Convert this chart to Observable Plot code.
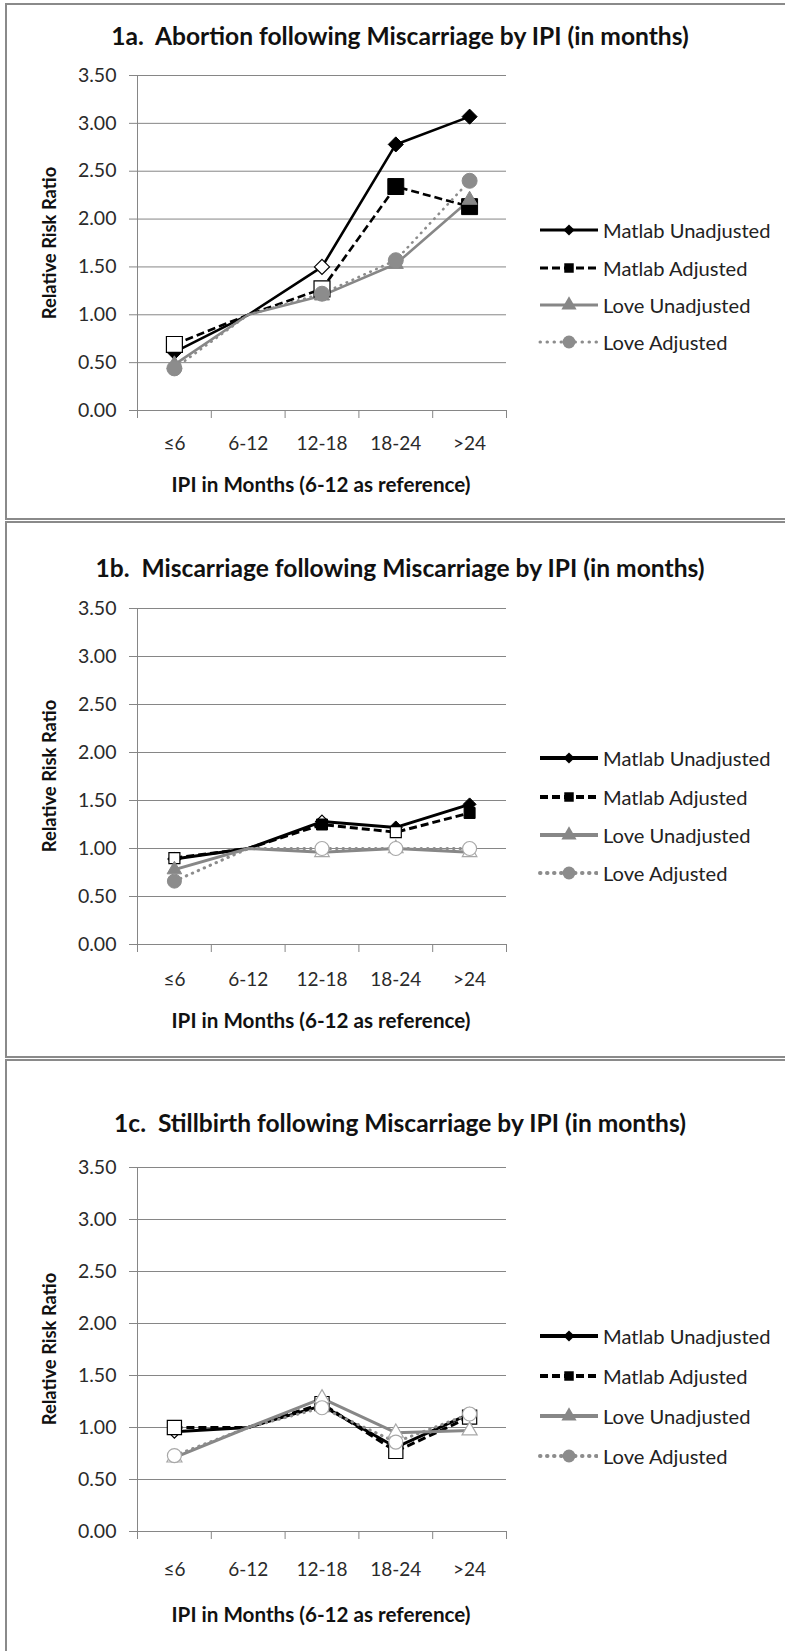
<!DOCTYPE html>
<html>
<head>
<meta charset="utf-8">
<script src="https://cdn.jsdelivr.net/npm/d3@7"></script>
<script src="https://cdn.jsdelivr.net/npm/@observablehq/plot@0.6"></script>
<style>
  html, body { margin: 0; padding: 0; background: #fff; }
  body { width: 785px; height: 1651px; overflow: hidden; position: relative; font-family: Lato, "Open Sans", sans-serif; color: #111; }
  .panel { position: absolute; left: 5px; width: 800px; border: 2px solid #8a8a8a; box-sizing: border-box; }
  .title { position: absolute; left: 0; width: 800px; text-align: center; font-weight: bold; font-size: 24.5px; white-space: pre; line-height: 30px; color: #111; transform: translateY(-50%); }
  .ytitle { position: absolute; font-weight: bold; font-size: 19.5px; white-space: nowrap; line-height: 24px; transform: translate(-50%, -50%) rotate(-90deg); color: #111; }
  .xtitle { position: absolute; font-weight: bold; font-size: 20.7px; white-space: nowrap; line-height: 24px; transform: translate(-50%, -50%); color: #111; }
  .plotwrap { position: absolute; left: 0; }
  .legrow { position: absolute; left: 0; height: 26px; display: flex; align-items: center; white-space: nowrap; font-size: 20.5px; color: #222; transform: translateY(-50%); }
  .legrow svg { margin-right: 5px; flex: none; }
</style>
</head>
<body>
<script>
// ---------- data ----------
const categories = ["≤6", "6-12", "12-18", "18-24", ">24"];
const seriesNames = ["Matlab Unadjusted", "Matlab Adjusted", "Love Unadjusted", "Love Adjusted"];
const yTicks = [0, 0.5, 1, 1.5, 2, 2.5, 3, 3.5];

// 1a. Abortion following Miscarriage
const abortionMatlabUnadj = [0.61, 1.00, 1.50, 2.78, 3.07];
const abortionMatlabAdj   = [0.69, 1.00, 1.27, 2.34, 2.13];
const abortionLoveUnadj   = [0.48, 1.00, 1.20, 1.53, 2.20];
const abortionLoveAdj     = [0.44, 1.00, 1.22, 1.57, 2.40];
// marker: 1 = filled, 0 = hollow, null = no marker (reference category)
const abortionMatlabUnadjFill = [1, null, 0, 1, 1];
const abortionMatlabAdjFill   = [0, null, 0, 1, 1];
const abortionLoveUnadjFill   = [1, null, 1, 1, 1];
const abortionLoveAdjFill     = [1, null, 1, 1, 1];

// 1b. Miscarriage following Miscarriage
const miscarriageMatlabUnadj = [0.89, 1.00, 1.28, 1.22, 1.46];
const miscarriageMatlabAdj   = [0.90, 1.00, 1.25, 1.17, 1.37];
const miscarriageLoveUnadj   = [0.78, 1.00, 0.96, 1.00, 0.96];
const miscarriageLoveAdj     = [0.66, 1.00, 1.00, 1.00, 1.00];
const miscarriageMatlabUnadjFill = [0, null, 0, 1, 1];
const miscarriageMatlabAdjFill   = [0, null, 1, 0, 1];
const miscarriageLoveUnadjFill   = [1, null, 0, 0, 0];
const miscarriageLoveAdjFill     = [1, null, 0, 0, 0];

// 1c. Stillbirth following Miscarriage
const stillbirthMatlabUnadj = [0.96, 1.00, 1.21, 0.81, 1.13];
const stillbirthMatlabAdj   = [1.00, 1.00, 1.23, 0.77, 1.10];
const stillbirthLoveUnadj   = [0.71, 1.00, 1.28, 0.95, 0.97];
const stillbirthLoveAdj     = [0.73, 1.00, 1.19, 0.86, 1.13];
const stillbirthMatlabUnadjFill = [0, null, 0, 1, 0];
const stillbirthMatlabAdjFill   = [0, null, 0, 0, 0];
const stillbirthLoveUnadjFill   = [0, null, 0, 0, 0];
const stillbirthLoveAdjFill     = [0, null, 0, 0, 0];

const panelTitles = [
  "1a.  Abortion following Miscarriage by IPI (in months)",
  "1b.  Miscarriage following Miscarriage by IPI (in months)",
  "1c.  Stillbirth following Miscarriage by IPI (in months)"
];
const yTitle = "Relative Risk Ratio";
const xTitle = "IPI in Months (6-12 as reference)";

// ---------- layout / style ----------
const GRAY_AXIS = "#868686";
const seriesStyle = [
  {color: "#000000", dash: null,    symbol: "diamond2", hollow: "#000000", cap: "butt"},
  {color: "#000000", dash: "8,4",   symbol: "square",   hollow: "#000000", cap: "butt"},
  {color: "#878787", dash: null,    symbol: "triangle", hollow: "#a8a8a8", cap: "butt"},
  {color: "#8c8c8c", dash: "0.5,6", symbol: "circle",   hollow: "#a8a8a8", cap: "round"}
];

const panels = [
  {
    series: [abortionMatlabUnadj, abortionMatlabAdj, abortionLoveUnadj, abortionLoveAdj],
    fills: [abortionMatlabUnadjFill, abortionMatlabAdjFill, abortionLoveUnadjFill, abortionLoveAdjFill],
    box: [3, 520], plotTop: 75, plotBottom: 410, titleY: 36, xTitleY: 484, xPad: 26,
    legendY: [230, 268, 305, 342], lineW: 2.6, legW: 3,
    r: [6.8, 9.0, 5.6, 7.5], titleW: 578
  },
  {
    series: [miscarriageMatlabUnadj, miscarriageMatlabAdj, miscarriageLoveUnadj, miscarriageLoveAdj],
    fills: [miscarriageMatlabUnadjFill, miscarriageMatlabAdjFill, miscarriageLoveUnadjFill, miscarriageLoveAdjFill],
    box: [521, 1058], plotTop: 608, plotBottom: 944, titleY: 568, xTitleY: 1020, xPad: 28,
    legendY: [758, 797, 835, 873], lineW: 3, legW: 4,
    r: [5.8, 6.2, 5.4, 7.0], titleW: 609
  },
  {
    series: [stillbirthMatlabUnadj, stillbirthMatlabAdj, stillbirthLoveUnadj, stillbirthLoveAdj],
    fills: [stillbirthMatlabUnadjFill, stillbirthMatlabAdjFill, stillbirthLoveUnadjFill, stillbirthLoveAdjFill],
    box: [1059, 1700], plotTop: 1167, plotBottom: 1531, titleY: 1123, xTitleY: 1614, xPad: 31,
    legendY: [1336, 1376, 1416, 1456], lineW: 3, legW: 4,
    r: [5.8, 8.0, 5.6, 7.0], titleW: 572
  }
];

const ML = 137, MR = 785 - 506, MT = 20, MB = 80;

// scale an element's font so that its natural width matches a target width (within limits)
function fitWidth(el, target, lo, hi) {
  const w = el.offsetWidth;
  if (!w) return;
  const fs = parseFloat(getComputedStyle(el).fontSize);
  const nfs = Math.max(lo, Math.min(hi, fs * target / w));
  el.style.fontSize = nfs + "px";
}

function legendSwatch(k, legW) {
  const s = seriesStyle[k];
  const ns = "http://www.w3.org/2000/svg";
  const svg = document.createElementNS(ns, "svg");
  svg.setAttribute("width", 60); svg.setAttribute("height", 20);
  const line = document.createElementNS(ns, "line");
  line.setAttribute("x1", 2); line.setAttribute("x2", 60);
  line.setAttribute("y1", 10); line.setAttribute("y2", 10);
  line.setAttribute("stroke", s.color);
  line.setAttribute("stroke-width", legW);
  if (s.dash) line.setAttribute("stroke-dasharray", s.dash === "8,4" ? "8,4" : "0.5,6.5");
  line.setAttribute("stroke-linecap", s.cap);
  svg.appendChild(line);
  const sym = {diamond2: d3.symbolDiamond2, square: d3.symbolSquare, triangle: d3.symbolTriangle, circle: d3.symbolCircle}[s.symbol];
  const size = {diamond2: 80, square: 90, triangle: 100, circle: 130}[s.symbol];
  const p = document.createElementNS(ns, "path");
  p.setAttribute("d", d3.symbol(sym, size)());
  p.setAttribute("transform", "translate(31,10)");
  p.setAttribute("fill", s.color);
  svg.appendChild(p);
  return svg;
}

panels.forEach((P, pi) => {
  const box = document.createElement("div");
  box.className = "panel";
  box.style.top = P.box[0] + "px";
  box.style.height = (P.box[1] - P.box[0]) + "px";
  document.body.appendChild(box);

  const t = document.createElement("div");
  t.className = "title";
  const ts = document.createElement("span");
  ts.textContent = panelTitles[pi];
  t.appendChild(ts);
  t.style.top = P.titleY + "px";
  document.body.appendChild(t);
  fitWidth(ts, P.titleW, 22, 27);

  const rows = [];
  P.series.forEach((vals, k) => {
    vals.forEach((v, i) => rows.push({k, cat: i, x: i + 0.5, y: v, fill: P.fills[k][i]}));
  });

  const plotH = P.plotBottom - P.plotTop;
  const marks = [
    Plot.gridY(yTicks, {stroke: GRAY_AXIS, strokeOpacity: 1, strokeWidth: 1}),
    Plot.ruleX([0], {stroke: GRAY_AXIS, strokeWidth: 1}),
    Plot.axisY({ticks: yTicks, tickFormat: d3.format(".2f"), tickSize: 8, tickPadding: 13,
                stroke: GRAY_AXIS, color: "#2a2a2a", label: null, fontSize: 19.5}),
    Plot.axisX({ticks: [0, 1, 2, 3, 4, 5], tickSize: 8, tickFormat: () => "", stroke: GRAY_AXIS, label: null}),
    Plot.axisX({ticks: categories.map((c, i) => i + 0.5), tickSize: 0, tickPadding: P.xPad,
                tickFormat: (d, i) => categories[i], color: "#2a2a2a", label: null, fontSize: 19})
  ];
  seriesStyle.forEach((s, k) => {
    marks.push(Plot.line(rows.filter(d => d.k === k), {
      x: "x", y: "y", stroke: s.color, strokeWidth: P.lineW,
      strokeDasharray: s.dash, strokeLinecap: s.cap, strokeLinejoin: "round"
    }));
  });
  seriesStyle.forEach((s, k) => {
    const pts = rows.filter(d => d.k === k && d.fill !== null);
    marks.push(Plot.dot(pts.filter(d => d.fill === 1), {
      x: "x", y: "y", symbol: s.symbol, r: P.r[k], fill: s.color, stroke: s.color, strokeWidth: 1
    }));
    marks.push(Plot.dot(pts.filter(d => d.fill === 0), {
      x: "x", y: "y", symbol: s.symbol, r: P.r[k], fill: "white", stroke: s.hollow, strokeWidth: 1.2
    }));
  });

  const chart = Plot.plot({
    width: 785,
    height: plotH + MT + MB,
    marginLeft: ML, marginRight: MR, marginTop: MT, marginBottom: MB,
    x: {type: "linear", domain: [0, 5]},
    y: {type: "linear", domain: [0, 3.5]},
    style: {fontFamily: "Lato, 'Open Sans', sans-serif", fontSize: "19px", background: "transparent", overflow: "visible"},
    marks
  });
  const wrap = document.createElement("div");
  wrap.className = "plotwrap";
  wrap.style.top = (P.plotTop - MT) + "px";
  wrap.appendChild(chart);
  document.body.appendChild(wrap);

  const yt = document.createElement("div");
  yt.className = "ytitle";
  yt.textContent = yTitle;
  yt.style.left = "49px";
  yt.style.top = ((P.plotTop + P.plotBottom) / 2) + "px";
  document.body.appendChild(yt);
  fitWidth(yt, 153, 17, 22);

  const xt = document.createElement("div");
  xt.className = "xtitle";
  xt.textContent = xTitle;
  xt.style.left = "321px";
  xt.style.top = P.xTitleY + "px";
  document.body.appendChild(xt);
  fitWidth(xt, 299, 18, 23);

  let legFont = null;
  seriesNames.forEach((name, k) => {
    const row = document.createElement("div");
    row.className = "legrow";
    row.style.left = "538px";
    row.style.top = P.legendY[k] + "px";
    row.appendChild(legendSwatch(k, P.legW));
    const span = document.createElement("span");
    span.textContent = name;
    row.appendChild(span);
    document.body.appendChild(row);
    if (k === 0) { fitWidth(span, 168, 18, 23); legFont = span.style.fontSize; }
    else if (legFont) span.style.fontSize = legFont;
  });
});
</script>
</body>
</html>
